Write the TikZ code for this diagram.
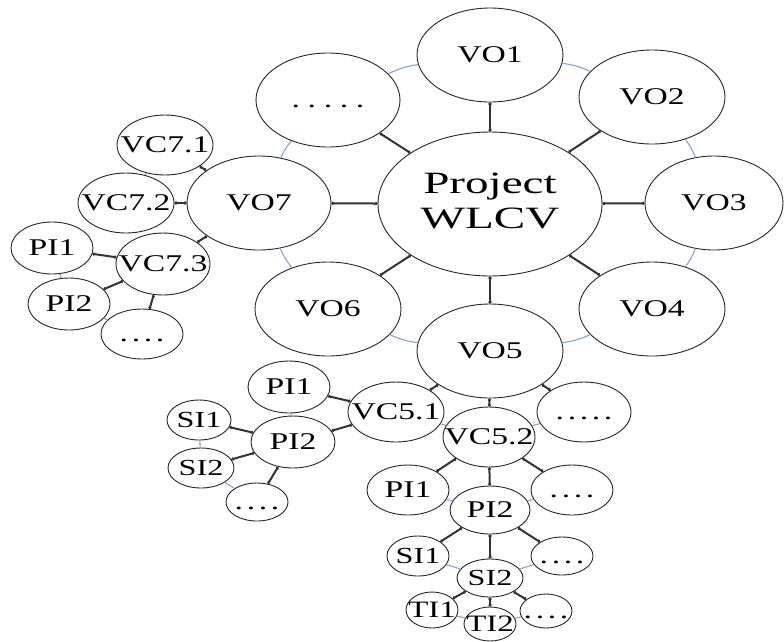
\documentclass[tikz,border=0pt]{standalone}
\usepackage{fontspec}
\usepackage{graphicx}
\setmainfont{Liberation Serif}
\usetikzlibrary{shapes.geometric,arrows.meta}
\definecolor{ringblue}{HTML}{7FA3DA}
\newcommand{\tx}[2][24]{\makebox[0pt]{\scalebox{1.4}[1]{\fontsize{#1}{#1}\selectfont #2}}}
\newcommand{\dfive}[1]{\tx{\vphantom{V}.\hspace{#1}.\hspace{#1}.\hspace{#1}.\hspace{#1}.}}
\newcommand{\dfour}{\tx{\vphantom{V}.\hspace{2.6pt}.\hspace{2.6pt}.\hspace{2.6pt}.}}
\tikzset{
  nd/.style 2 args={ellipse, draw=black!85, line width=0.9pt, fill=white, inner sep=0pt,
    minimum width=#1pt, minimum height=#2pt},
  lk/.style={draw=black!80, line width=2pt, {Circle[length=3pt]}-{Circle[length=3pt]}},
  sib/.style={draw=ringblue, line width=1.1pt},
}
\begin{document}
\begin{tikzpicture}[x=1pt,y=-1pt]
\useasboundingbox (0,0) rectangle (784,641);
% main ring
\node[nd={224}{144}] (proj) at (490,204) {\makebox[0pt]{\scalebox{1.52}[1]{\fontsize{31}{35}\selectfont\begin{tabular}{@{}c@{}}Project\\WLCV\end{tabular}}}};
\node[nd={146}{94}] (vo1) at (490,55) {\tx{VO1}};
\node[nd={146}{94}] (vo2) at (652,97) {\tx{VO2}};
\node[nd={138}{94}] (vo3) at (714,203) {\tx{VO3}};
\node[nd={146}{94}] (vo4) at (652,309) {\tx{VO4}};
\node[nd={146}{94}] (vo5) at (490,351) {\tx{VO5}};
\node[nd={146}{94}] (vo6) at (328,309) {\tx{VO6}};
\node[nd={144}{94}] (vo7) at (259,203) {\tx{VO7}};
\node[nd={144}{94}] (vo8) at (328,100) {\dfive{5.5pt}};
% VO7 subtree
\node[nd={96}{60}] (vc71) at (165,145) {\tx{VC7.1}};
\node[nd={96}{60}] (vc72) at (126,203) {\tx{VC7.2}};
\node[nd={94}{62}] (vc73) at (163,264) {\tx{VC7.3}};
\node[nd={82}{52}] (p71) at (52,248) {\tx{PI1}};
\node[nd={82}{52}] (p72) at (69,304) {\tx{PI2}};
\node[nd={82}{50}] (p73) at (142,334) {\dfour};
% VO5 subtree
\node[nd={96}{60}] (vc51) at (396,412) {\tx{VC5.1}};
\node[nd={92}{60}] (vc52) at (489,437) {\tx{VC5.2}};
\node[nd={94}{60}] (vc53) at (584,412) {\dfive{2.6pt}};
% VC5.1 subtree
\node[nd={82}{52}] (a1) at (289,387) {\tx{PI1}};
\node[nd={84}{52}] (a2) at (293,442) {\tx{PI2}};
\node[nd={64}{40}] (s1) at (199,420) {\tx[23]{SI1}};
\node[nd={66}{40}] (s2) at (201,468) {\tx[23]{SI2}};
\node[nd={62}{38}] (s3) at (257,502) {\dfour};
% VC5.2 subtree
\node[nd={82}{50}] (b1) at (408,490) {\tx{PI1}};
\node[nd={80}{48}] (b2) at (490,510) {\tx{PI2}};
\node[nd={82}{50}] (b3) at (572,490) {\dfour};
\node[nd={62}{40}] (c1) at (418,556) {\tx[23]{SI1}};
\node[nd={66}{38}] (c2) at (490,578) {\tx[23]{SI2}};
\node[nd={62}{38}] (c3) at (562,556) {\dfour};
\node[nd={52}{36}] (d1) at (432,610) {\tx[23.5]{TI1}};
\node[nd={52}{34}] (d2) at (490,624) {\tx[23.5]{TI2}};
\node[nd={52}{34}] (d3) at (546,611) {\dfour};
% black links
\foreach \v in {vo1,vo2,vo3,vo4,vo5,vo6,vo7,vo8} \draw[lk] (proj) -- (\v);
\foreach \v in {vc71,vc72,vc73} \draw[lk] (vo7) -- (\v);
\foreach \v in {p71,p72,p73} \draw[lk] (vc73) -- (\v);
\foreach \v in {vc51,vc52,vc53} \draw[lk] (vo5) -- (\v);
\foreach \v in {a1,a2} \draw[lk] (vc51) -- (\v);
\foreach \v in {s1,s2,s3} \draw[lk] (a2) -- (\v);
\foreach \v in {b1,b2,b3} \draw[lk] (vc52) -- (\v);
\foreach \v in {c1,c2,c3} \draw[lk] (b2) -- (\v);
\foreach \v in {d1,d2,d3} \draw[lk] (c2) -- (\v);
% ring
\draw[sib] (vo1) to[bend left=8] (vo2);
\draw[sib] (vo2) to[bend left=8] (vo3);
\draw[sib] (vo3) to[bend left=8] (vo4);
\draw[sib] (vo4) to[bend left=8] (vo5);
\draw[sib] (vo5) to[bend left=8] (vo6);
\draw[sib] (vo6) to[bend left=8] (vo7);
\draw[sib] (vo7) to[bend left=8] (vo8);
\draw[sib] (vo8) to[bend left=8] (vo1);
% sibling links
\draw[sib] (vc71) -- (vc72);
\draw[sib] (p71) -- (p72);
\draw[sib] (p72) -- (p73);
\draw[sib] (vc51) -- (vc52);
\draw[sib] (vc52) -- (vc53);
\draw[sib] (a1) -- (a2);
\draw[sib] (s1) -- (s2);
\draw[sib] (s2) -- (s3);
\draw[sib] (b1) -- (b2);
\draw[sib] (b2) -- (b3);
\draw[sib] (c1) -- (c2);
\draw[sib] (c2) -- (c3);
\draw[sib] (d1) -- (d2);
\draw[sib] (d2) -- (d3);
\end{tikzpicture}
\end{document}
